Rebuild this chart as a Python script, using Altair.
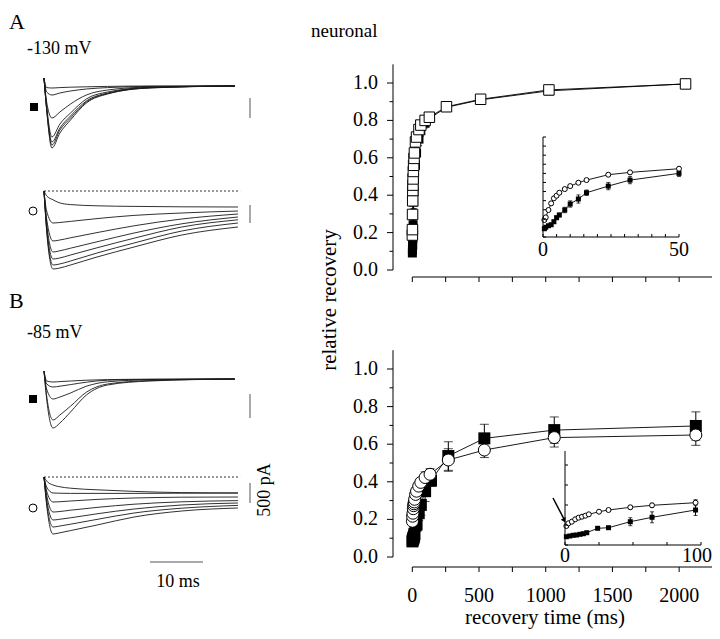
import altair as alt
import pandas as pd

# ---------------- recovery data (relative recovery vs recovery time, ms) ----------------
A_time = [0.5, 1, 2, 3, 4, 5, 6, 8, 10, 13, 16, 24, 32, 50, 64, 96, 128, 256, 512, 1024, 2048]
A_open = [0.187, 0.216, 0.297, 0.37, 0.425, 0.454, 0.487, 0.527, 0.56, 0.597, 0.626, 0.685,
          0.711, 0.751, 0.775, 0.80, 0.817, 0.873, 0.913, 0.963, 0.995]
A_open_err = [0.01, 0.01, 0.01, 0.01, 0.01, 0.01, 0.01, 0.01, 0.01, 0.01, 0.01, 0.015,
              0.015, 0.015, 0.02, 0.02, 0.02, 0.02, 0.015, 0.015, 0.01]
A_filled = [0.091, 0.107, 0.124, 0.135, 0.168, 0.212, 0.242, 0.297, 0.363, 0.418, 0.487, 0.56,
            0.626, 0.70, 0.745, 0.785, 0.81, 0.87, 0.91, 0.958, 0.995]
A_filled_err = [0.01, 0.01, 0.01, 0.01, 0.015, 0.02, 0.02, 0.03, 0.035, 0.045, 0.03, 0.04,
                0.04, 0.035, 0.03, 0.025, 0.02, 0.02, 0.015, 0.015, 0.01]

B_open_time = [1, 2.5, 5, 7.5, 10, 12.5, 15, 17.5, 25, 32, 48, 64, 96, 133, 270, 540, 1064, 2125]
B_open = [0.19, 0.217, 0.233, 0.257, 0.273, 0.283, 0.293, 0.307, 0.333, 0.35, 0.377, 0.397,
          0.423, 0.44, 0.516, 0.569, 0.635, 0.649]
B_open_err = [0.01, 0.01, 0.01, 0.01, 0.01, 0.01, 0.01, 0.01, 0.01, 0.01, 0.015, 0.02,
              0.03, 0.03, 0.06, 0.04, 0.05, 0.055]
B_filled_time = [1, 3.5, 6, 8.5, 11, 13.5, 16, 24, 32, 48, 64, 96, 140, 270, 540, 1064, 2125]
B_filled = [0.083, 0.09, 0.097, 0.10, 0.107, 0.113, 0.123, 0.167, 0.173, 0.233, 0.277, 0.35,
            0.406, 0.537, 0.631, 0.675, 0.697]
B_filled_err = [0.005, 0.005, 0.005, 0.005, 0.005, 0.005, 0.01, 0.01, 0.01, 0.04, 0.055, 0.055,
                0.03, 0.076, 0.075, 0.07, 0.075]

# ---------------- axis ticks ----------------
MAIN_X_TICKS = [0, 250, 500, 750, 1000, 1250, 1500, 1750, 2000, 2250]
MAIN_X_LABELS = [0, 500, 1000, 1500, 2000]
MAIN_Y_MAJOR = [0.0, 0.2, 0.4, 0.6, 0.8, 1.0]
MAIN_Y_MINOR = [0.1, 0.3, 0.5, 0.7, 0.9]
INSET_A_X_TICKS = [0, 5, 10, 15, 20, 25, 30, 35, 40, 45, 50]
INSET_A_Y_TICKS = [0, 0.1, 0.2, 0.3, 0.4, 0.5, 0.6, 0.7, 0.8, 0.9, 1.0, 1.1]
INSET_A_LABELS = [0, 50]
INSET_B_X_TICKS = [0, 25, 50, 75, 100]
INSET_B_Y_TICKS = [0, 0.2, 0.4, 0.6, 0.8]
INSET_B_LABELS = [0, 100]

# ---------------- current traces (time ms, current pA) ----------------
AT_time = [0, 0.5, 1.5, 3, 5, 8, 12, 20, 36]
AT_traces = [
    [200, -600, -1550, -1175, -850, -425, -200, -50, 0],
    [200, -580, -1475, -1100, -800, -400, -190, -45, 0],
    [200, -550, -1400, -1050, -750, -375, -175, -40, 0],
    [200, -500, -1275, -950, -675, -325, -150, -35, 0],
    [200, -400, -800, -650, -450, -225, -100, -25, 0],
    [200, -150, -225, -175, -125, -75, -40, -10, 0],
    [200, -40, -50, -40, -30, -20, -10, 0, 0],
]
AB_time = [0, 0.5, 1.7, 2.8, 5, 10, 17, 26, 36.6]
AB_traces = [
    [0, -120, -220, -290, -340, -370, -385, -395, -400],
    [0, -500, -800, -790, -760, -690, -610, -550, -500],
    [0, -700, -1250, -1230, -1170, -1040, -870, -700, -575],
    [0, -800, -1525, -1500, -1430, -1270, -1050, -820, -650],
    [0, -900, -1700, -1680, -1600, -1420, -1180, -900, -720],
    [0, -950, -1850, -1830, -1750, -1550, -1300, -1000, -800],
    [0, -1000, -1950, -1930, -1850, -1650, -1400, -1100, -900],
]
BT_time = [0, 0.5, 1.7, 3, 5, 8, 12, 20, 36]
BT_traces = [
    [200, -500, -1225, -1100, -825, -400, -150, -50, 0],
    [200, -420, -1025, -900, -680, -330, -125, -40, 0],
    [200, -250, -500, -450, -350, -180, -70, -20, 0],
    [200, -120, -200, -180, -140, -80, -30, -10, 0],
    [200, -50, -75, -65, -50, -30, -15, -5, 0],
]
BB_time = [0, 0.5, 1.7, 2.8, 5, 10, 17, 26, 36.6]
BB_traces = [
    [0, -100, -200, -240, -280, -320, -360, -390, -400],
    [0, -250, -400, -405, -410, -410, -410, -405, -400],
    [0, -350, -625, -620, -600, -560, -525, -505, -500],
    [0, -450, -875, -865, -830, -760, -680, -620, -590],
    [0, -550, -1075, -1060, -1020, -920, -800, -700, -650],
    [0, -650, -1250, -1230, -1180, -1060, -900, -780, -710],
    [0, -700, -1425, -1400, -1340, -1200, -1000, -850, -775],
]
TRACE_END = [37]
SCALE_BARS = {"AT": [-300, -800], "AB": [-350, -800], "BT": [-375, -975], "BB": [-150, -650]}
TIME_BAR = [20, 30]  # 10 ms

FONT = "Liberation Serif"
INK = "black"


def px(v):
    return v - 8


def df_series(t, v, e):
    return pd.DataFrame({"t": t, "v": v, "e": e})


def series(df, xs, ys, shape, filled, size, cap, tmax=None):
    base = alt.Chart(df)
    if tmax is not None:
        base = base.transform_filter(alt.datum.t <= tmax)
    x = alt.X("t:Q", scale=xs, axis=None)
    y = alt.Y("v:Q", scale=ys, axis=None)
    line = base.mark_line(color=INK, strokeWidth=0.9).encode(x=x, y=y)
    eb = base.transform_calculate(lo="datum.v - datum.e", hi="datum.v + datum.e")
    bar = eb.mark_rule(color=INK, strokeWidth=1).encode(
        x=x, y=alt.Y("lo:Q", scale=ys, axis=None), y2="hi:Q")
    c1 = eb.mark_tick(orient="horizontal", size=cap, thickness=1, color=INK).encode(
        x=x, y=alt.Y("lo:Q", scale=ys, axis=None))
    c2 = eb.mark_tick(orient="horizontal", size=cap, thickness=1, color=INK).encode(
        x=x, y=alt.Y("hi:Q", scale=ys, axis=None))
    if filled:
        pts = base.mark_point(shape=shape, filled=True, color=INK, size=size, opacity=1).encode(x=x, y=y)
    else:
        pts = base.mark_point(shape=shape, filled=True, fill="white", stroke=INK, strokeWidth=1,
                              size=size, opacity=1).encode(x=x, y=y)
    return [line, bar, c1, c2], pts


def main_panel(fdf, odf, y0, k, xaxis_y, labels, fsize, osize, oshape, cap):
    xs = alt.Scale(domain=[0, 2250], range=[px(412.3), px(712.5)])
    ys = alt.Scale(domain=[0, 1.1], range=[px(y0), px(y0 - 1.1 * k)])
    fl, fp = series(fdf, xs, ys, "square", True, fsize, cap)
    ol, op = series(odf, xs, ys, oshape, False, osize, cap)
    layers = fl + ol + [fp, op]
    # y axis
    layers.append(alt.Chart(pd.DataFrame({"a": [0], "b": [1.1]})).mark_rule(color=INK).encode(
        x=alt.value(px(393)), y=alt.Y("a:Q", scale=ys, axis=None), y2="b:Q"))
    layers.append(alt.Chart(pd.DataFrame({"v": MAIN_Y_MAJOR})).mark_rule(color=INK).encode(
        x=alt.value(px(387)), x2=alt.value(px(393)), y=alt.Y("v:Q", scale=ys, axis=None)))
    layers.append(alt.Chart(pd.DataFrame({"v": MAIN_Y_MINOR})).mark_rule(color=INK).encode(
        x=alt.value(px(389.5)), x2=alt.value(px(393)), y=alt.Y("v:Q", scale=ys, axis=None)))
    layers.append(alt.Chart(pd.DataFrame({"v": MAIN_Y_MAJOR})).mark_text(
        font=FONT, fontSize=20, align="right", baseline="middle", color=INK).encode(
        x=alt.value(px(378)), y=alt.Y("v:Q", scale=ys, axis=None), text=alt.Text("v:Q", format=".1f")))
    # x axis
    layers.append(alt.Chart(pd.DataFrame({"a": [0], "b": [2250]})).mark_rule(color=INK).encode(
        y=alt.value(px(xaxis_y)), x=alt.X("a:Q", scale=xs, axis=None), x2="b:Q"))
    layers.append(alt.Chart(pd.DataFrame({"v": MAIN_X_TICKS})).mark_rule(color=INK).encode(
        x=alt.X("v:Q", scale=xs, axis=None), y=alt.value(px(xaxis_y)), y2=alt.value(px(xaxis_y + 5))))
    if labels:
        layers.append(alt.Chart(pd.DataFrame({"v": MAIN_X_LABELS})).mark_text(
            font=FONT, fontSize=20, align="center", baseline="alphabetic", color=INK).encode(
            x=alt.X("v:Q", scale=xs, axis=None), y=alt.value(px(602)),
            text=alt.Text("v:Q", format="d")))
    return alt.layer(*layers)


def inset_panel(fdf, odf, xdom, xr, ydom, yr, xticks, yticks, xlabels, label_y, last_label_dx):
    xs = alt.Scale(domain=xdom, range=[px(xr[0]), px(xr[1])])
    ys = alt.Scale(domain=ydom, range=[px(yr[0]), px(yr[1])])
    fl, fp = series(fdf, xs, ys, "square", True, 25, 4, tmax=xdom[1])
    ol, op = series(odf, xs, ys, "circle", False, 25, 4, tmax=xdom[1])
    layers = fl + ol + [fp, op]
    layers.append(alt.Chart(pd.DataFrame({"a": [ydom[0]], "b": [yticks[-1] + (ydom[1] - yticks[-1]) * 0.7]})).mark_rule(color=INK).encode(
        x=alt.value(px(xr[0])), y=alt.Y("a:Q", scale=ys, axis=None), y2="b:Q"))
    layers.append(alt.Chart(pd.DataFrame({"v": yticks})).mark_rule(color=INK).encode(
        x=alt.value(px(xr[0])), x2=alt.value(px(xr[0] + 3)), y=alt.Y("v:Q", scale=ys, axis=None)))
    layers.append(alt.Chart(pd.DataFrame({"a": [xdom[0]], "b": [xdom[1]]})).mark_rule(color=INK).encode(
        y=alt.value(px(yr[0])), x=alt.X("a:Q", scale=xs, axis=None), x2="b:Q"))
    layers.append(alt.Chart(pd.DataFrame({"v": xticks})).mark_rule(color=INK).encode(
        x=alt.X("v:Q", scale=xs, axis=None), y=alt.value(px(yr[0] - 3)), y2=alt.value(px(yr[0]))))
    layers.append(alt.Chart(pd.DataFrame({"v": xlabels[:1]})).mark_text(
        font=FONT, fontSize=20, align="center", baseline="alphabetic", color=INK).encode(
        x=alt.X("v:Q", scale=xs, axis=None), y=alt.value(px(label_y)),
        text=alt.Text("v:Q", format="d")))
    layers.append(alt.Chart(pd.DataFrame({"v": xlabels[1:]})).mark_text(
        font=FONT, fontSize=20, align="center", baseline="alphabetic", color=INK, dx=last_label_dx).encode(
        x=alt.X("v:Q", scale=xs, axis=None), y=alt.value(px(label_y)),
        text=alt.Text("v:Q", format="d")))
    return alt.layer(*layers)


def trace_panel(times, traces, y0, bar, dashed=False, timebar=False):
    xs = alt.Scale(domain=[0, 40], range=[px(44), px(44 + 40 * 5.3)])
    ys = alt.Scale(domain=[-3000, 500], range=[px(y0 + 120), px(y0 - 20)])
    rows = [{"t": t, "i": v, "k": j} for j, tr in enumerate(traces) for t, v in zip(times, tr)]
    df = pd.DataFrame(rows)
    layers = [alt.Chart(df).mark_line(interpolate="monotone", color="#1a1a1a", strokeWidth=0.9).encode(
        x=alt.X("t:Q", scale=xs, axis=None), y=alt.Y("i:Q", scale=ys, axis=None), detail="k:N")]
    if dashed:
        layers.append(alt.Chart(pd.DataFrame({"a": [0], "b": TRACE_END, "i": [0]})).mark_rule(
            color=INK, strokeWidth=0.8, strokeDash=[2, 2]).encode(
            x=alt.X("a:Q", scale=xs, axis=None), x2="b:Q", y=alt.Y("i:Q", scale=ys, axis=None)))
    layers.append(alt.Chart(pd.DataFrame({"a": [bar[0]], "b": [bar[1]]})).mark_rule(
        color="#555", strokeWidth=1).encode(
        x=alt.value(px(250)), y=alt.Y("a:Q", scale=ys, axis=None), y2="b:Q"))
    if timebar:
        layers.append(alt.Chart(pd.DataFrame({"a": [TIME_BAR[0]], "b": [TIME_BAR[1]]})).mark_rule(
            color="#555", strokeWidth=1).encode(
            x=alt.X("a:Q", scale=xs, axis=None), x2="b:Q", y=alt.value(px(562))))
    return alt.layer(*layers)


def text(s, x, y, size, align="left", baseline="alphabetic", angle=0):
    kw = dict(text=s, font=FONT, fontSize=size, align=align, baseline=baseline, color=INK)
    if angle:
        kw["angle"] = angle
    return alt.Chart(pd.DataFrame({"a": [0]})).mark_text(**kw).encode(
        x=alt.value(px(x)), y=alt.value(px(y)))


def marker(x, y, filled):
    if filled:
        m = alt.Chart(pd.DataFrame({"a": [0]})).mark_point(shape="square", filled=True, color=INK,
                                                          size=64, opacity=1)
    else:
        m = alt.Chart(pd.DataFrame({"a": [0]})).mark_point(shape="circle", filled=False, color=INK,
                                                          strokeWidth=1, size=64, opacity=1)
    return m.encode(x=alt.value(px(x)), y=alt.value(px(y)))


fA = df_series(A_time, A_filled, A_filled_err)
oA = df_series(A_time, A_open, A_open_err)
fB = df_series(B_filled_time, B_filled, B_filled_err)
oB = df_series(B_open_time, B_open, B_open_err)

panels = [
    main_panel(fA, oA, 270, 187, 277, False, 81, 110, "square", 6),
    main_panel(fB, oB, 557, 188, 567, True, 144, 144, "circle", 9),
    inset_panel(fA, oA, [0, 50], [543, 679], [0, 1.1], [237, 137],
                INSET_A_X_TICKS, INSET_A_Y_TICKS, INSET_A_LABELS, 256, 0),
    inset_panel(fB, oB, [0, 100], [565, 701], [0, 1.0], [545, 445],
                INSET_B_X_TICKS, INSET_B_Y_TICKS, INSET_B_LABELS, 562, -4),
    trace_panel(AT_time, AT_traces, 86, SCALE_BARS["AT"]),
    trace_panel(AB_time, AB_traces, 191, SCALE_BARS["AB"], dashed=True),
    trace_panel(BT_time, BT_traces, 379, SCALE_BARS["BT"]),
    trace_panel(BB_time, BB_traces, 477, SCALE_BARS["BB"], dashed=True, timebar=True),
]

annotations = alt.layer(
    text("A", 9, 29, 22),
    text("-130 mV", 27, 54, 18),
    text("B", 9, 308, 22),
    text("-85 mV", 27, 338, 18),
    text("neuronal", 311, 37, 19),
    text("relative recovery", 330, 300, 21, align="center", baseline="middle", angle=270),
    text("recovery time (ms)", 545, 624, 21, align="center"),
    text("10 ms", 178, 587, 18, align="center"),
    text("500 pA", 265, 490, 18, align="center", baseline="middle", angle=270),
    marker(34, 107, True),
    marker(33, 211, False),
    marker(33, 399, True),
    marker(33, 508, False),
    alt.Chart(pd.DataFrame({"a": [0]})).mark_rule(color=INK, strokeWidth=1.5).encode(
        x=alt.value(px(553)), y=alt.value(px(498)), x2=alt.value(px(564.5)), y2=alt.value(px(520))),
    alt.Chart(pd.DataFrame({"a": [0]})).mark_point(shape="triangle-down", filled=True, color=INK,
                                                  size=30, angle=332, opacity=1).encode(
        x=alt.value(px(564.3)), y=alt.value(px(520.5))),
)

chart = alt.layer(*panels, annotations).resolve_scale(
    x="independent", y="independent"
).properties(width=704, height=623, padding=0, autosize="none").configure_view(stroke=None)

chart.save("out.html", embed_options={"renderer": "svg", "actions": False})
